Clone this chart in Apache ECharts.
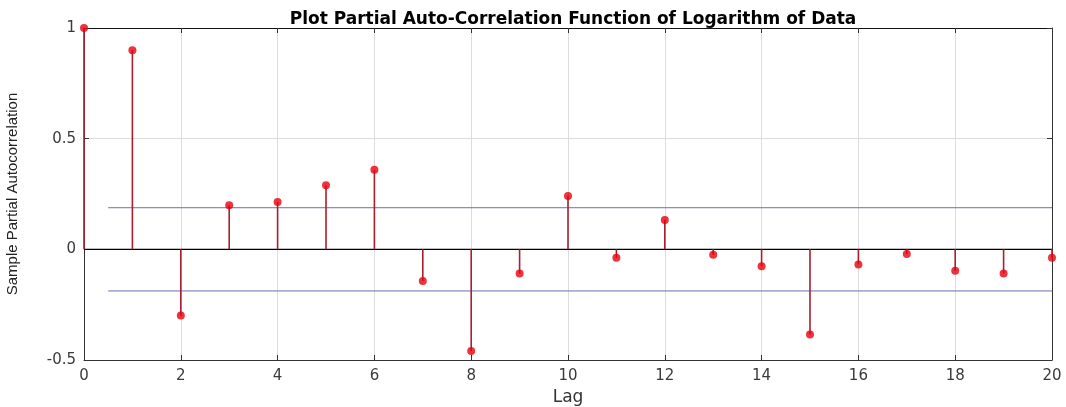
<!DOCTYPE html>
<html>
<head>
<meta charset="utf-8">
<script src="https://cdn.jsdelivr.net/npm/echarts@6/dist/echarts.min.js"></script>
<style>
  html, body { margin: 0; padding: 0; background: #fff; }
  #chart { width: 1066px; height: 407px; }
</style>
</head>
<body>
<div id="chart"></div>
<script>
// partial autocorrelation of log data, lags 0..20
const lags = [0, 1, 2, 3, 4, 5, 6, 7, 8, 9, 10, 11, 12, 13, 14, 15, 16, 17, 18, 19, 20]
const pacf = [1, 0.90, -0.299, 0.199, 0.214, 0.29, 0.359, -0.143, -0.459, -0.109, 0.241,
  -0.038, 0.133, -0.024, -0.076, -0.385, -0.068, -0.021, -0.097, -0.109, -0.038]
const bound = 0.188
const boundRange = [0.5, 20]

const points = lags.map((l, i) => [l, pacf[i]])

const chart = echarts.init(document.getElementById('chart'))

const wide = 'DejaVu Sans, Verdana, sans-serif'
const tickFont = { color: '#3a3a3a', fontSize: 15, fontFamily: wide }

const option = {
  animation: false,
  title: {
    text: 'Plot Partial Auto-Correlation Function of Logarithm of Data',
    left: 568,
    textAlign: 'center',
    top: 6,
    textStyle: { fontSize: 17, fontWeight: 'bold', color: '#000', fontFamily: wide }
  },
  grid: { left: 84, right: 14, top: 28, bottom: 47, containLabel: false, outerBoundsMode: 'none' },
  xAxis: [
    {
      type: 'value', min: 0, max: 20, interval: 2,
      name: 'Lag', nameLocation: 'middle', nameGap: 26,
      nameTextStyle: { fontSize: 17, color: '#333', fontFamily: wide },
      axisLine: { onZero: false, lineStyle: { color: '#333', width: 1 } },
      axisTick: { inside: true, length: 5, lineStyle: { color: '#333' } },
      axisLabel: Object.assign({ margin: 9 }, tickFont),
      splitLine: { show: true, lineStyle: { color: '#dcdcdc', width: 1 } }
    },
    {
      type: 'value', min: 0, max: 20, interval: 2, position: 'top',
      axisLine: { onZero: false, lineStyle: { color: '#111', width: 1 } },
      axisTick: { inside: true, length: 5, lineStyle: { color: '#333' } },
      axisLabel: { show: false },
      splitLine: { show: false }
    }
  ],
  yAxis: [
    {
      type: 'value', min: -0.5, max: 1, interval: 0.5,
      name: 'Sample Partial Autocorrelation', nameLocation: 'middle', nameGap: 64,
      nameTextStyle: { fontSize: 15, color: '#222', fontFamily: 'Liberation Sans, Arial, sans-serif' },
      axisLine: { onZero: false, lineStyle: { color: '#333', width: 1 } },
      axisTick: { inside: true, length: 5, lineStyle: { color: '#333' } },
      axisLabel: Object.assign({ margin: 8 }, tickFont),
      splitLine: { show: true, lineStyle: { color: '#dcdcdc', width: 1 } }
    },
    {
      type: 'value', min: -0.5, max: 1, interval: 0.5, position: 'right',
      axisLine: { onZero: false, lineStyle: { color: '#333', width: 1 } },
      axisTick: { inside: true, length: 5, lineStyle: { color: '#333' } },
      axisLabel: { show: false },
      splitLine: { show: false }
    }
  ],
  series: [
    {
      name: 'zero', type: 'line', symbol: 'none', silent: true,
      data: [[0, 0], [20, 0]],
      lineStyle: { color: '#000', width: 1.2 }, z: 3
    },
    {
      name: 'upper', type: 'line', symbol: 'none', silent: true,
      data: boundRange.map(x => [x, bound]),
      lineStyle: { color: '#6e6eb0', width: 1 }
    },
    {
      name: 'lower', type: 'line', symbol: 'none', silent: true,
      data: boundRange.map(x => [x, -bound]),
      lineStyle: { color: '#6e6eb0', width: 1 }
    },
    {
      name: 'stems', type: 'custom', z: 4,
      data: points,
      renderItem: (params, api) => {
        const top = api.coord([api.value(0), api.value(1)])
        const base = api.coord([api.value(0), 0])
        return {
          type: 'line',
          shape: { x1: top[0], y1: top[1], x2: base[0], y2: base[1] },
          style: { stroke: '#a8202e', lineWidth: 1.6 }
        }
      }
    },
    {
      name: 'pacf', type: 'scatter', z: 5,
      data: points,
      symbol: 'circle', symbolSize: 8,
      itemStyle: { color: '#e8000c' }
    }
  ]
}

chart.setOption(option)
</script>
</body>
</html>
